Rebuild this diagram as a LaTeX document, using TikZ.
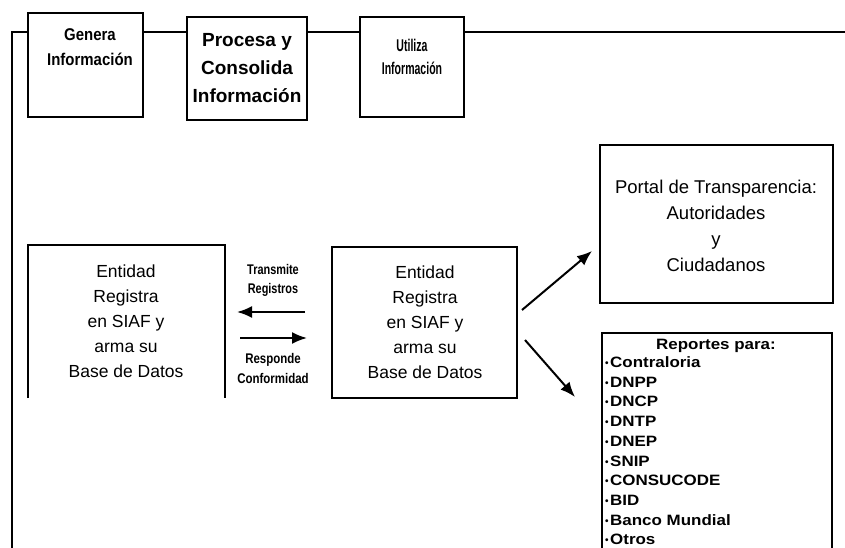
\documentclass[tikz,border=0pt]{standalone}
\usepackage{fontspec}
\setmainfont{Liberation Sans}
\usetikzlibrary{arrows.meta}
\newcommand{\fs}[2]{\fontsize{#1}{#2}\selectfont}
\newcommand{\bul}{{\fs{10}{10}\raisebox{1pt}{•}}\kern1.5pt}
\newcommand{\wide}[1]{\scalebox{1.13}[1]{#1}}
\tikzset{
  frame/.style={draw=black, line width=1.8pt},
  hbox/.style={draw=black, line width=1.7pt, fill=white, minimum width=#1, inner sep=0pt},
  txt/.style={align=center, inner sep=0pt},
  arr/.style={line width=2pt, -{Latex[length=15pt,width=12pt]}},
  edge/.style={line width=1.5pt}
}
\begin{document}
\begin{tikzpicture}[x=1pt,y=-1pt]
\useasboundingbox (0,0) rectangle (845,548);
% outer frame lines
\coordinate (fb) at (12,548);
\coordinate (ftl) at (12,32);
\coordinate (fr) at (845,32);
\draw[frame] (fb) -- (ftl) -- (fr);
% header boxes
\node[hbox=115pt, minimum height=104pt] (gen) at (85.5,65) {};
\node[hbox=120pt, minimum height=103pt] (pro) at (247,68.5) {};
\node[hbox=104pt, minimum height=100pt] (uti) at (412,67) {};
\node[txt, font=\bfseries\fs{17}{25}] (gent) at (90,47.5) {\scalebox{0.88}[1]{Genera}\\\scalebox{0.88}[1]{Información}};
\node[txt, font=\bfseries\fs{19}{28}] (prot) at (247,68) {Procesa y\\Consolida\\Información};
\node[txt, font=\bfseries\fs{17}{23}] (utit) at (412,57) {\scalebox{0.62}[1]{Utiliza}\\\scalebox{0.62}[1]{Información}};
% left entity box (open at bottom)
\coordinate (l1) at (28,398);
\coordinate (l2) at (28,245);
\coordinate (l3) at (225,245);
\coordinate (l4) at (225,398);
\draw[edge] (l1) -- (l2) -- (l3) -- (l4);
\node[txt, font=\fs{17.5}{25}] (ent1) at (126,321) {Entidad\\Registra\\en SIAF y\\arma su\\Base de Datos};
% middle entity box
\node[draw=black, line width=1.5pt, minimum width=185pt, minimum height=151pt, inner sep=0pt] (mid) at (424.5,322.5) {};
\node[txt, font=\fs{17.5}{25}] (ent2) at (425,322) {Entidad\\Registra\\en SIAF y\\arma su\\Base de Datos};
% transmit / respond labels and arrows
\node[txt, font=\bfseries\fs{14}{19}] (trans) at (273,280) {\scalebox{0.78}[1]{Transmite}\\\scalebox{0.78}[1]{Registros}};
\node[txt, font=\bfseries\fs{14}{20}] (resp) at (273,368) {\scalebox{0.82}[1]{Responde}\\\scalebox{0.82}[1]{Conformidad}};
\coordinate (ta) at (305,312);
\coordinate (tb) at (237,312);
\coordinate (ra) at (240,338);
\coordinate (rb) at (307,338);
\draw[arr] (ta) -- (tb);
\draw[arr] (ra) -- (rb);
% portal box
\node[draw=black, line width=1.7pt, minimum width=233pt, minimum height=158pt, inner sep=0pt] (portal) at (716.5,224) {};
\node[txt, font=\fs{18.5}{26}] (portt) at (716,226) {Portal de Transparencia:\\Autoridades\\y\\Ciudadanos};
% reportes box (open at bottom)
\coordinate (r1) at (602,548);
\coordinate (r2) at (602,333);
\coordinate (r3) at (832,333);
\coordinate (r4) at (832,548);
\draw[edge] (r1) -- (r2) -- (r3) -- (r4);
\node[txt, font=\bfseries\fs{15}{19.7}] (rept) at (716,346) {\wide{Reportes para:}};
\node[align=left, inner sep=0pt, anchor=north west, font=\bfseries\fs{15}{19.7}] (list) at (605,356.5)
 {\bul\wide{Contraloria}\\\bul\wide{DNPP}\\\bul\wide{DNCP}\\\bul\wide{DNTP}\\\bul\wide{DNEP}\\\bul\wide{SNIP}\\\bul\wide{CONSUCODE}\\\bul\wide{BID}\\\bul\wide{Banco Mundial}\\\bul\wide{Otros}};
% diagonal arrows
\coordinate (d1) at (522,310);
\coordinate (d2) at (592,251);
\coordinate (d3) at (525,340);
\coordinate (d4) at (575,397);
\draw[arr] (d1) -- (d2);
\draw[arr] (d3) -- (d4);
\end{tikzpicture}
\end{document}
